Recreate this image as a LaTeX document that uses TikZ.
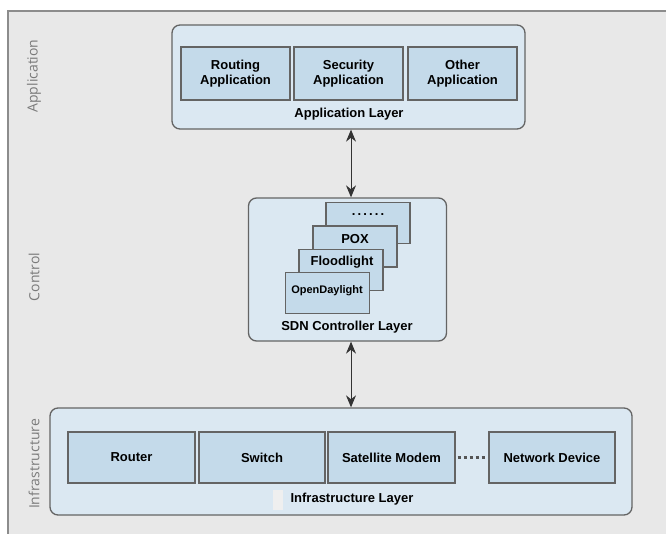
\documentclass[tikz,border=0pt]{standalone}
\usepackage{fontspec}
\setmainfont{Liberation Sans}
\newfontfamily\sidefont{Open Sans}
\usetikzlibrary{arrows.meta}

\definecolor{panelgray}{HTML}{E8E8E8}
\definecolor{framegray}{HTML}{8C8C8C}
\definecolor{layerblue}{HTML}{DBE8F2}
\definecolor{boxblue}{HTML}{C4DAEA}
\definecolor{edgegray}{HTML}{646464}
\definecolor{sidetext}{HTML}{7A7A7A}

\tikzset{
  layer/.style={draw=edgegray, fill=layerblue, rounded corners=8pt, line width=1.3pt, inner sep=0pt},
  unit/.style={draw=edgegray, fill=boxblue, line width=1.1pt, inner sep=0pt, align=center,
    font=\bfseries\fontsize{13}{15}\selectfont},
  ctrl/.style={unit, minimum width=84pt, minimum height=41pt},
  caption/.style={font=\bfseries\fontsize{13}{15}\selectfont, inner sep=0pt},
  side/.style={rotate=90, text=sidetext, font=\sidefont\fontsize{14}{16}\selectfont, inner sep=0pt},
  link/.style={draw=black!80, line width=1pt, {Stealth[length=12pt,width=10pt]}-{Stealth[length=12pt,width=10pt]}}
}

\begin{document}
\begin{tikzpicture}[x=1pt,y=-1pt]
          \useasboundingbox (0,0) rectangle (666,534);
          % grey panel, open to the right and at the bottom
          \fill[panelgray] (8,11) rectangle (670,540);
          \draw[framegray, line width=1.5pt] (8,540) -- (8,11) -- (670,11);
          \node[side] (sideapp) at (34,76)  {Application};
          \node[side] (sidectl) at (34,277) {Control};
          \node[side] (sideinf) at (34,464) {Infrastructure};
          % application layer
          \node[layer, minimum width=353pt, minimum height=104pt] (app) at (348.5,77) {};
          \node[unit, minimum width=109pt, minimum height=53pt] (routing)  at (235.5,73.5) {Routing\\Application};
          \node[unit, minimum width=109pt, minimum height=53pt] (security) at (348.5,73.5) {Security\\Application};
          \node[unit, minimum width=109pt, minimum height=53pt] (other)    at (462.5,73.5) {Other\\Application};
          \node[caption] (applbl) at (349,114) {Application Layer};
          % controller layer
          \node[layer, minimum width=198pt, minimum height=143pt] (sdn) at (347.5,269.5) {};
          \node[ctrl] (more)  at (368,223)   {};      % back
          \node[ctrl] (pox)   at (355,246.5) {};
          \node[ctrl] (flood) at (341,270)   {};
          \node[ctrl] (odl)   at (327.5,293) {};      % front
          \node[caption, anchor=base] (morelbl) at (368,216) {.\,.\,.\,.\,.\,.};
          \node[caption] (poxlbl)   at (355,239) {POX};
          \node[caption] (floodlbl) at (342,262) {Floodlight};
          \node[caption, font=\bfseries\fontsize{11}{13}\selectfont] (odllbl) at (327,291) {OpenDaylight};
          \node[caption] (sdnlbl) at (347,327) {SDN Controller Layer};
          % infrastructure layer
          \node[layer, minimum width=582pt, minimum height=107pt] (infra) at (341,461.5) {};
          \node[unit, minimum width=127pt, minimum height=51pt] (router)  at (131.5,457.5) {Router};
          \node[unit, minimum width=126pt, minimum height=51pt] (switch)  at (262,457.5)   {Switch};
          \node[unit, minimum width=127pt, minimum height=51pt] (modem)   at (391.5,457.5) {Satellite Modem};
          \node[unit, minimum width=126pt, minimum height=51pt] (device)  at (552,457.5)   {Network Device};
          \fill[panelgray!70!white] (273,490) rectangle (283,510);
          \node[caption] (infralbl) at (352,499) {Infrastructure Layer};
          % links
          \draw[edgegray!85!black, line width=2.6pt, dash pattern=on 3pt off 3pt] ([xshift=2pt]modem.east) -- ([xshift=-3pt]device.west);
          \draw[link] ([xshift=2.5pt]app.south) -- ([xshift=3.5pt]sdn.north);
          \draw[link] ([xshift=3.5pt]sdn.south) -- ([xshift=10pt]infra.north);
\end{tikzpicture}
\end{document}
